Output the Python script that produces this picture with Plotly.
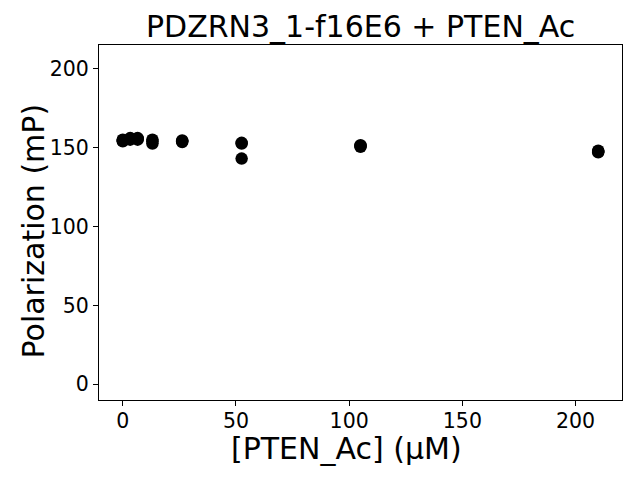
import plotly.graph_objects as go

conc = [0, 3.28, 6.56, 13.1, 26.25, 52.5, 105, 210]
rep1 = [154.0, 156.0, 155.5, 155.0, 154.5, 153.0, 151.0, 148.0]
rep2 = [155.0, 155.0, 156.0, 152.5, 154.0, 152.5, 151.5, 147.0]
rep3 = [154.5, 155.5, 155.0, 154.0, 153.5, 143.0, 150.5, 147.5]

title = "PDZRN3_1-f16E6 + PTEN_Ac"
xlabel = "[PTEN_Ac] (μM)"
ylabel = "Polarization (mP)"
xticks = [0, 50, 100, 150, 200]
yticks = [0, 50, 100, 150, 200]

xs = conc * 3
ys = rep1 + rep2 + rep3

font = "DejaVu Sans"
fig = go.Figure()
fig.add_trace(go.Scatter(x=xs, y=ys, mode="markers",
                         marker=dict(color="black", size=12.5, line=dict(width=0)),
                         showlegend=False, hoverinfo="skip"))

axis_common = dict(showgrid=False, zeroline=False, showline=True, linecolor="black",
                   linewidth=1, mirror=True, ticks="outside", ticklen=5, tickwidth=1,
                   tickcolor="black", tickfont=dict(family=font, size=20.5, color="black"))

fig.update_layout(
    width=640, height=480,
    margin=dict(l=99, r=18, t=45, b=80),
    paper_bgcolor="white", plot_bgcolor="white",
    font=dict(family=font, color="black"),
    xaxis=dict(range=[-10.5, 220.5], tickvals=xticks, ticklabelstandoff=-3, **axis_common),
    yaxis=dict(range=[-10, 215], tickvals=yticks, **axis_common),
)
fig.add_annotation(text=title, x=0.5, y=1, xref="paper", yref="paper",
                   yanchor="middle", yshift=19, showarrow=False,
                   font=dict(family=font, size=30, color="black"))
fig.add_annotation(text=xlabel, x=0.5, y=0, xref="paper", yref="paper",
                   yanchor="middle", xshift=-14, yshift=-48, showarrow=False,
                   font=dict(family=font, size=30, color="black"))
fig.add_annotation(text=ylabel, x=0, y=0.5, xref="paper", yref="paper",
                   xanchor="center", xshift=-66, yshift=-9, textangle=-90, showarrow=False,
                   font=dict(family=font, size=30, color="black"))
fig.write_html("out.html", config={"displayModeBar": False},
               post_script="document.body.style.margin='0';")
